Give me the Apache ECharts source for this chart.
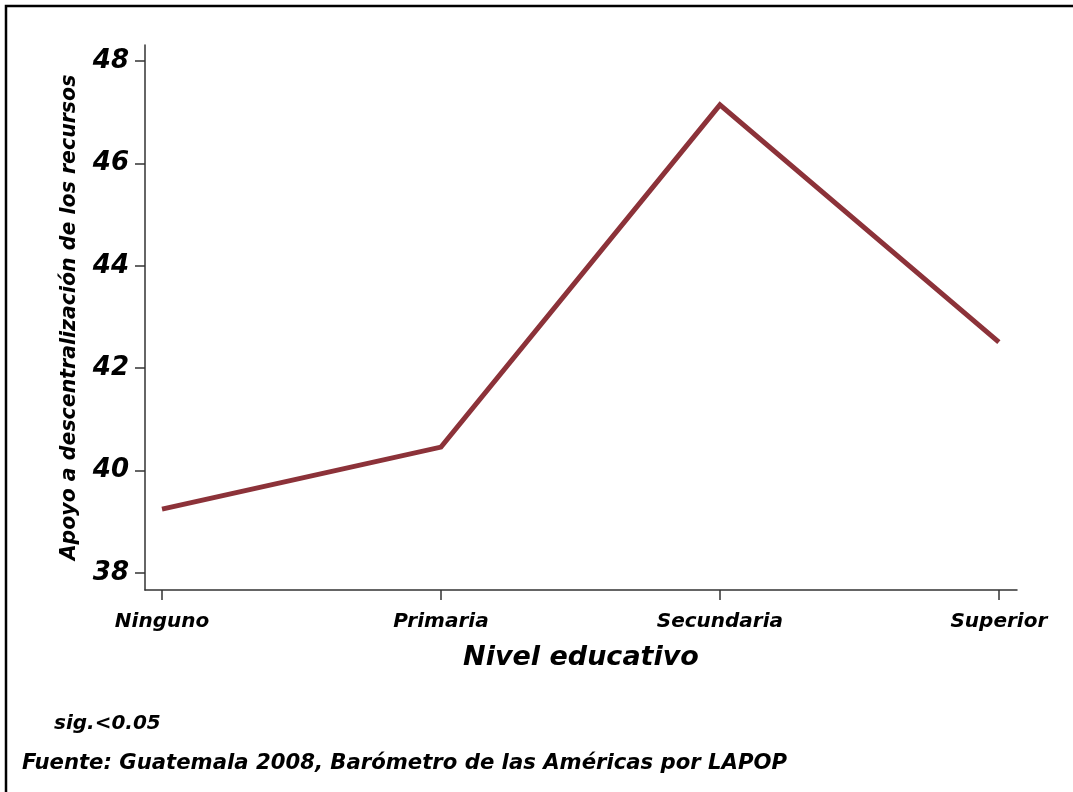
<!DOCTYPE html>
<html>
<head>
<meta charset="utf-8">
<script src="https://cdn.jsdelivr.net/npm/echarts@6/dist/echarts.min.js"></script>
<style>
html,body{margin:0;padding:0;background:#fff;}
#chart{width:1073px;height:792px;}
</style>
</head>
<body>
<div id="chart"></div>
<script>
const categories = ["Ninguno", "Primaria", "Secundaria", "Superior"];
const values = [39.25, 40.46, 47.14, 42.51];
const yTicks = [38, 40, 42, 44, 46, 48];
const xTitle = "Nivel educativo";
const yTitle = "Apoyo a descentralización de los recursos";
const note1 = "sig.<0.05";
const note2 = "Fuente: Guatemala 2008, Barómetro de las Américas por LAPOP";

const font = "'DejaVu Sans', 'Liberation Sans', Arial, sans-serif";
const chart = echarts.init(document.getElementById('chart'));
chart.setOption({
  backgroundColor: '#fff',
  animation: false,
  grid: {left: 145, right: 56, top: 45, bottom: 202},
  xAxis: {
    type: 'value',
    min: -0.061, max: 3.065,
    splitLine: {show: false},
    axisLine: {onZero: false, lineStyle: {color: '#333', width: 1.5}},
    axisTick: {show: true, length: 10, customValues: [0,1,2,3], lineStyle: {color: '#333', width: 1.5}},
    axisLabel: {
      customValues: [0,1,2,3],
      formatter: v => categories[Math.round(v)],
      margin: 22, fontSize: 20, fontWeight: 'bold', fontStyle: 'italic',
      fontFamily: font, color: '#000'
    },
    name: xTitle, nameLocation: 'middle', nameGap: 54,
    nameTextStyle: {fontSize: 27, fontWeight: 'bold', fontStyle: 'italic', fontFamily: font, color: '#000'}
  },
  yAxis: {
    type: 'value',
    min: 37.67, max: 48.31,
    splitLine: {show: false},
    axisLine: {show: true, onZero: false, lineStyle: {color: '#333', width: 1.5}},
    axisTick: {show: true, length: 10, customValues: yTicks, lineStyle: {color: '#333', width: 1.5}},
    axisLabel: {
      customValues: yTicks, margin: 16, fontSize: 26, fontWeight: 'bold', fontStyle: 'italic',
      fontFamily: font, color: '#000'
    },
    name: yTitle, nameLocation: 'middle', nameRotate: 90, nameGap: 65,
    nameTextStyle: {fontSize: 20.5, fontWeight: 'bold', fontStyle: 'italic', fontFamily: font, color: '#000'}
  },
  series: [{
    type: 'line',
    data: values.map((v, i) => [i, v]),
    symbol: 'none',
    lineStyle: {color: '#8C3239', width: 5, join: 'miter'},
    itemStyle: {color: '#8C3239'}
  }],
  graphic: [
    {type: 'rect', shape: {x: 6, y: 6, width: 1200, height: 1000}, style: {fill: 'none', stroke: '#000', lineWidth: 2.5}, silent: true},
    {type: 'text', left: 54, top: 714, style: {text: note1, fontSize: 20, fontWeight: 'bold', fontStyle: 'italic', fontFamily: font, fill: '#000'}},
    {type: 'text', left: 22, top: 753, style: {text: note2, fontSize: 21.2, fontWeight: 'bold', fontStyle: 'italic', fontFamily: font, fill: '#000'}}
  ]
});
</script>
</body>
</html>
